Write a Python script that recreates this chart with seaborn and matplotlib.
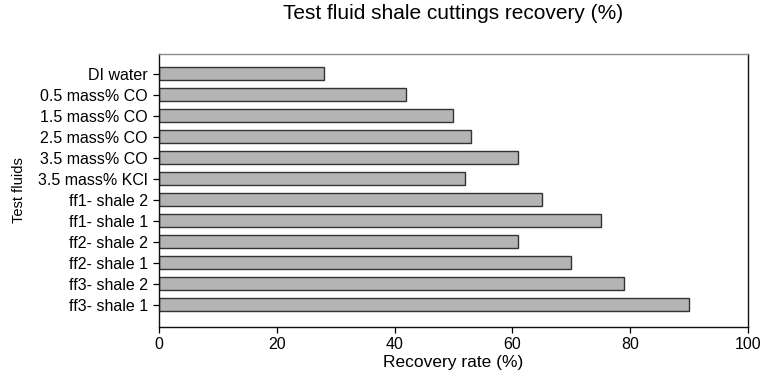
import matplotlib
matplotlib.use("Agg")
import matplotlib.pyplot as plt
import seaborn as sns
import pandas as pd

# data
fluids = ["DI water", "0.5 mass% CO", "1.5 mass% CO", "2.5 mass% CO",
          "3.5 mass% CO", "3.5 mass% KCl", "ff1- shale 2", "ff1- shale 1",
          "ff2- shale 2", "ff2- shale 1", "ff3- shale 2", "ff3- shale 1"]
recovery = [28, 42, 50, 53, 61, 52, 65, 75, 61, 70, 79, 90]
x_ticks = [0, 20, 40, 60, 80, 100]

df = pd.DataFrame({"fluid": fluids, "recovery": recovery})

sns.set_style("ticks")
plt.rcParams["font.family"] = ["Liberation Sans", "DejaVu Sans"]
plt.rcParams["text.color"] = "black"
plt.rcParams["axes.labelcolor"] = "black"
plt.rcParams["xtick.color"] = "black"
plt.rcParams["ytick.color"] = "black"

fig = plt.figure(figsize=(7.61, 3.73), dpi=100)
ax = fig.add_axes([0.2089, 0.1233, 0.774, 0.7319])

sns.barplot(data=df, x="recovery", y="fluid", orient="h", ax=ax,
            color="#b4b4b4", saturation=1, edgecolor="#333333",
            linewidth=1.0, width=0.62)

ax.set_xlim(0, 100)
ax.set_ylim(12.05, -0.95)
ax.set_xticks(x_ticks)
ax.tick_params(axis="both", labelsize=11.5, length=4, width=0.9,
               direction="out")
ax.tick_params(axis="x", pad=3)
ax.tick_params(axis="y", pad=4)

for side in ["left", "bottom", "right"]:
    ax.spines[side].set_visible(True)
    ax.spines[side].set_color("#111111")
    ax.spines[side].set_linewidth(1.0)
ax.spines["top"].set_visible(True)
ax.spines["top"].set_color("#8c8c8c")
ax.spines["top"].set_linewidth(1.0)

ax.set_xlabel("Recovery rate (%)", fontsize=12.5)
ax.set_ylabel("Test fluids", fontsize=10.5)
ax.xaxis.set_label_coords(0.5, -0.103)
ax.yaxis.set_label_coords(-0.226, 0.5)
fig.suptitle("Test fluid shale cuttings recovery (%)", fontsize=15,
             x=0.595, y=0.99)

fig.savefig("out.png", dpi=100)
